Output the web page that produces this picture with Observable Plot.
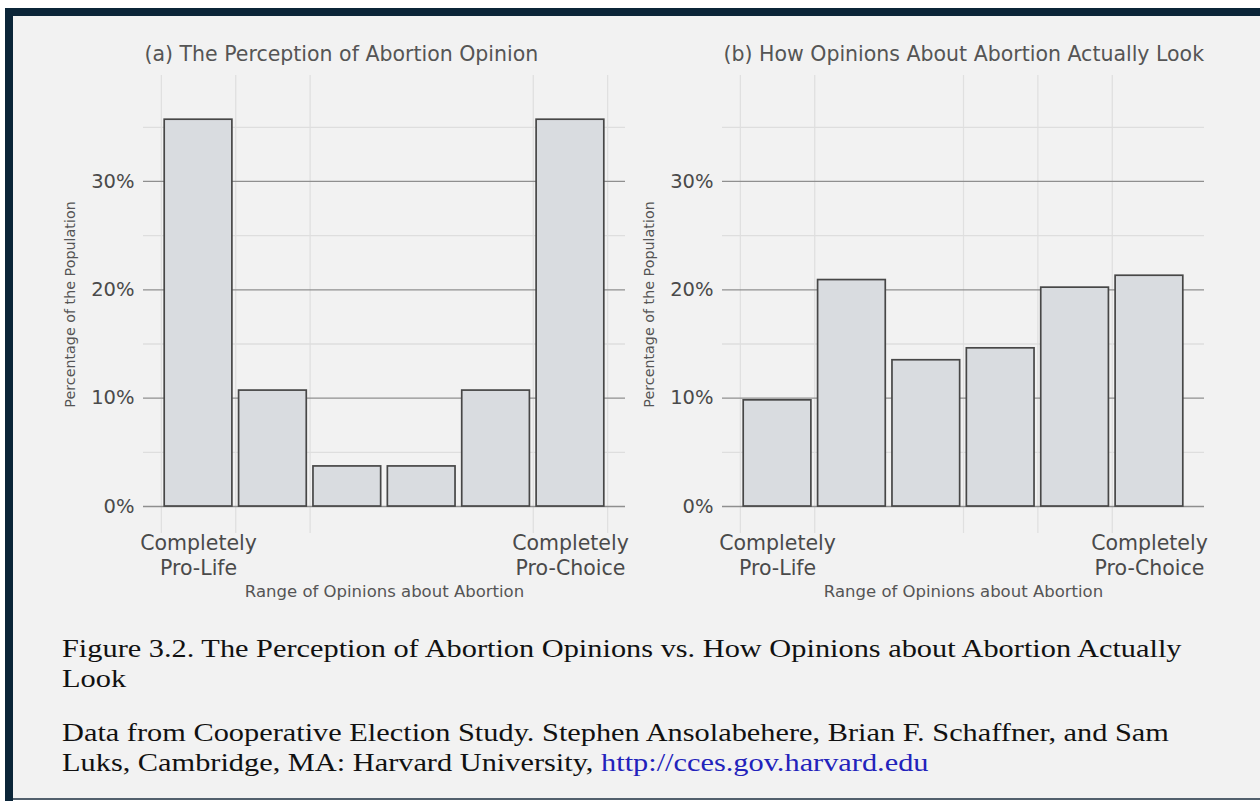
<!DOCTYPE html>
<html><head><meta charset="utf-8">
<script src="https://cdn.jsdelivr.net/npm/d3@7"></script>
<script src="https://cdn.jsdelivr.net/npm/@observablehq/plot@0.6"></script>
<style>
html,body{margin:0;padding:0;background:#fff;}
#frame{position:absolute;left:0;top:0;width:1260px;height:801px;background:#fff;overflow:hidden}
#navyTop{position:absolute;left:5px;top:8px;width:1255px;height:8px;background:#0b2538}
#navyLeft{position:absolute;left:5px;top:8px;width:8px;height:793px;background:#0b2538}
#inner{position:absolute;left:13px;top:16px;width:1247px;height:782px;background:#f2f2f2}
#bottomLine{position:absolute;left:13px;top:798px;width:1247px;height:2px;background:#52606d}
#pa,#pb{position:absolute;top:16px}
#pa{left:14px}
#pb{left:593px}
.cap{position:absolute;left:62px;font-family:"Liberation Serif","Times New Roman",serif;font-size:26px;color:#111;line-height:30px;white-space:nowrap;transform:scaleX(1.167);transform-origin:0 0}
.cap a{color:#2222bb;text-decoration:none}
</style>
</head>
<body>
<div id="frame">
  <div id="navyTop"></div>
  <div id="navyLeft"></div>
  <div id="inner"></div>
  <div id="bottomLine"></div>
  <div id="pa"></div>
  <div id="pb"></div>
  <div class="cap" style="top:634px">Figure 3.2. The Perception of Abortion Opinions vs. How Opinions about Abortion Actually<br>Look</div>
  <div class="cap" style="top:718px">Data from Cooperative Election Study. Stephen Ansolabehere, Brian F. Schaffner, and Sam<br>Luks, Cambridge, MA: Harvard University, <a>http://cces.gov.harvard.edu</a></div>
</div>
<script>
const positions = [1, 2, 3, 4, 5, 6];
const perceived = [35.7, 10.7, 3.7, 3.7, 10.7, 35.7];
const actual = [9.8, 20.9, 13.5, 14.6, 20.2, 21.3];
const yMajor = [0, 10, 20, 30];
const yMinor = [5, 15, 25, 35];
const gridA = [0.5, 1.5, 2.5, 5.5, 6.5];
const gridB = [0.5, 1.5, 3.5, 4.5, 5.5];
const endPositions = [1, 6];
const endLabels = ["Completely\nPro-Life", "Completely\nPro-Choice"];
const titleA = "(a) The Perception of Abortion Opinion";
const titleB = "(b) How Opinions About Abortion Actually Look";
const yLabel = "Percentage of the Population";
const xLabel = "Range of Opinions about Abortion";

const FONT = '"DejaVu Sans", sans-serif';
const labelOf = Object.fromEntries(endPositions.map((p, i) => [p, endLabels[i]]));

function panel(values, grid, title) {
  const data = positions.map((p, i) => ({p, v: values[i]}));
  return Plot.plot({
    width: 620, height: 584,
    marginLeft: 129, marginRight: 9, marginTop: 59, marginBottom: 67,
    x: {type: "linear", domain: [0.26, 6.74]},
    y: {domain: [-2.49, 39.78]},
    style: {background: "transparent", fontFamily: FONT, overflow: "visible"},
    marks: [
      Plot.ruleX(grid, {stroke: "#e0e0e0", strokeWidth: 1.3}),
      Plot.ruleY(yMinor, {stroke: "#dedede", strokeWidth: 1.3}),
      Plot.ruleY(yMajor, {stroke: "#8f8f8f", strokeWidth: 1.3}),
      Plot.rectY(data, {x1: d => d.p - 0.455, x2: d => d.p + 0.455, y1: 0, y2: "v",
        fill: "#d9dce0", stroke: "#474747", strokeWidth: 1.7}),
      Plot.axisY({ticks: yMajor, tickFormat: d => d + "%", tickSize: 0, tickPadding: 9,
        fontSize: 19.5, fill: "#4a4a4a", label: null}),
      Plot.axisX({ticks: endPositions, tickFormat: d => labelOf[d], tickSize: 0, tickPadding: -1,
        fontSize: 20.5, lineHeight: 1.2, fill: "#4a4a4a", label: null}),
      Plot.text([yLabel], {frameAnchor: "left", textAnchor: "middle", rotate: -90, dx: -73, fontSize: 14.3, fill: "#555", text: d => d}),
      Plot.text([xLabel], {frameAnchor: "bottom", dy: 63, fontSize: 16.5, fill: "#555", text: d => d}),
      Plot.text([title], {frameAnchor: "top-left", textAnchor: "start", dx: 1, dy: -29, fontSize: 20.5, fill: "#555", text: d => d})
    ]
  });
}

document.getElementById("pa").appendChild(panel(perceived, gridA, titleA));
document.getElementById("pb").appendChild(panel(actual, gridB, titleB));
</script>
</body></html>
